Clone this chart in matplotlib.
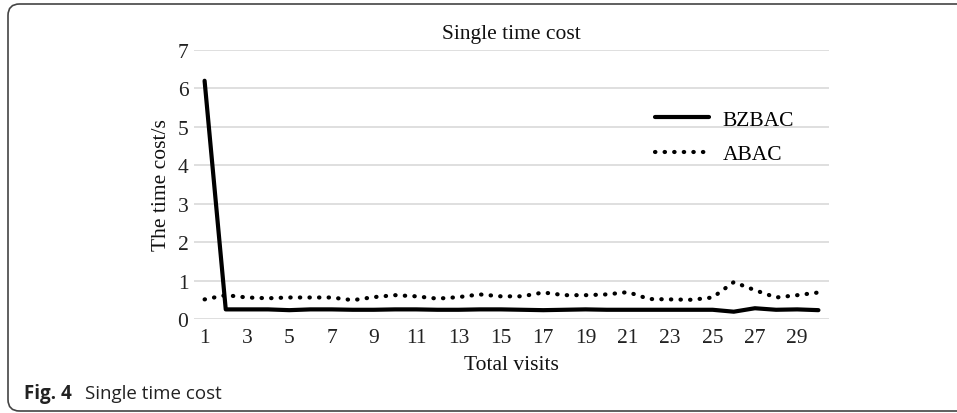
import matplotlib
matplotlib.use("Agg")
import matplotlib.pyplot as plt
from matplotlib.patches import FancyBboxPatch

# --- data ---
visits = list(range(1, 31))
bzbac = [6.2, 0.25, 0.25, 0.25, 0.23, 0.25, 0.25, 0.24, 0.24, 0.25,
         0.25, 0.24, 0.24, 0.25, 0.25, 0.24, 0.23, 0.24, 0.25, 0.24,
         0.24, 0.24, 0.24, 0.24, 0.24, 0.19, 0.28, 0.24, 0.25, 0.23]
abac = [0.51, 0.62, 0.56, 0.54, 0.56, 0.56, 0.56, 0.49, 0.57, 0.62,
        0.59, 0.53, 0.57, 0.64, 0.59, 0.59, 0.69, 0.62, 0.62, 0.64,
        0.70, 0.52, 0.51, 0.50, 0.56, 0.96, 0.75, 0.56, 0.62, 0.69]
xticks = list(range(1, 31, 2))
yticks = list(range(0, 8))

W, H = 957, 414
FS = 15.5


def main() -> None:
    plt.rcParams["font.family"] = "Liberation Serif"
    fig = plt.figure(figsize=(W / 100, H / 100), dpi=100)
    ax = fig.add_axes([194 / W, 1 - 320 / H, (829 - 194) / W, (320 - 51) / H])

    ax.plot(visits, bzbac, color="black", lw=3, solid_capstyle="round",
            solid_joinstyle="round", label="BZBAC")
    ax.plot(visits, abac, color="black", lw=3, linestyle=(0, (0.1, 2.2)),
            dash_capstyle="round", label="ABAC")

    ax.set_xlim(0.5, 30.5)
    ax.set_ylim(0, 7)
    ax.set_xticks(xticks)
    ax.set_yticks(yticks)
    ax.tick_params(length=0, labelsize=FS, colors="#222222")
    ax.tick_params(axis="x", pad=6.5)
    ax.tick_params(axis="y", pad=4)
    ax.grid(axis="y", color="#d9d9d9", lw=1.2)
    ax.set_axisbelow(True)
    for s in ax.spines.values():
        s.set_visible(False)

    ax.set_title("Single time cost", fontsize=FS, pad=8.5, color="#111111")
    ax.set_xlabel("Total visits", fontsize=FS, labelpad=5.5, color="#111111")
    ax.set_ylabel("The time cost/s", fontsize=FS, labelpad=4.5, color="#111111")

    ax.legend(loc="center left", bbox_to_anchor=((655 - 194) / 635, (320 - 138) / 269),
              frameon=False, fontsize=FS, handlelength=2.5, handletextpad=0.65,
              labelspacing=0.67, borderpad=0, borderaxespad=0)

    # rounded frame around the figure panel
    box = FancyBboxPatch((8 / W, 2 / H), 1.2, 1 - 7 / H,
                         boxstyle="round,pad=0,rounding_size=0.012",
                         mutation_aspect=W / H, transform=fig.transFigure,
                         fill=False, edgecolor="#444444", lw=1.2, clip_on=False)
    fig.add_artist(box)

    fig.text(24 / W, 1 - 394 / H, "Fig. 4", family="Open Sans", weight="bold",
             fontsize=13.5, va="center", color="#222222")
    fig.text(85 / W, 1 - 394 / H, "Single time cost", family="Open Sans",
             fontsize=13.5, va="center", color="#222222")

    fig.savefig("out.png", dpi=100)


if __name__ == "__main__":
    main()
